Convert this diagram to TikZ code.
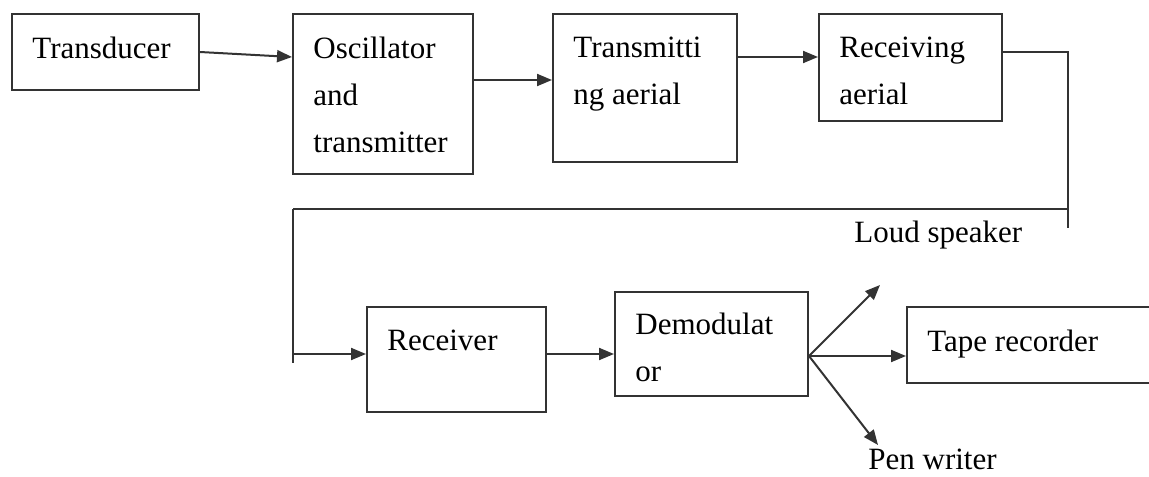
\documentclass[tikz,border=0pt]{standalone}
\usepackage{fontspec}
\setmainfont{Liberation Serif}
\usepackage{tikz}
\usetikzlibrary{arrows.meta,positioning}
\tikzset{>={Triangle[length=7.5pt,width=6pt]}}

\begin{document}
\begin{tikzpicture}[x=0.5pt, y=-0.5pt,
                    block/.style={draw, line width=1pt, black!80, inner sep=0pt},
                    lbl/.style={font=\fontsize{15.5}{23.5}\selectfont, black, align=left, inner sep=0pt, anchor=north west},
                    link/.style={line width=1pt, black!80, ->},
                    wire/.style={line width=1pt, black!80},
                   ]

\useasboundingbox (0,0) rectangle (1149,476);

% top row
\node[block, minimum width=93.5pt, minimum height=38pt] (trans) at (105.5,52) {};
\node[block, minimum width=90pt, minimum height=80pt] (osc) at (383,94) {};
\node[block, minimum width=92pt, minimum height=74pt] (tx) at (645,88) {};
\node[block, minimum width=91.5pt, minimum height=53.5pt] (rx) at (910.5,67.5) {};

% bottom row
\node[block, minimum width=89.5pt, minimum height=52.5pt] (rcv) at (456.5,359.5) {};
\node[block, minimum width=96.5pt, minimum height=52pt] (demod) at (711.5,344) {};
\node[block, minimum width=130pt, minimum height=38pt] (tape) at (1037,345) {};

\node[lbl] (transtext) at ([xshift=10.5pt,yshift=-12pt]trans.north west) {Transducer};
\node[lbl] (osctext) at ([xshift=10.5pt,yshift=-12pt]osc.north west) {Oscillator\\and\\transmitter};
\node[lbl] (txtext) at ([xshift=10.5pt,yshift=-12pt]tx.north west) {Transmitti\\ng aerial};
\node[lbl] (rxtext) at ([xshift=10.5pt,yshift=-12pt]rx.north west) {Receiving\\aerial};
\node[lbl] (rcvtext) at ([xshift=10.5pt,yshift=-12pt]rcv.north west) {Receiver};
\node[lbl] (demodtext) at ([xshift=10.5pt,yshift=-11pt]demod.north west) {Demodulat\\or};
\node[lbl] (tapetext) at ([xshift=10.5pt,yshift=-12pt]tape.north west) {Tape recorder};

\draw[link] (trans.east) -- (osc.west |- 0,57);
\draw[link] (osc.east |- 0,80) -- (tx.west |- 0,80);
\draw[link] (tx.east |- 0,57) -- (rx.west |- 0,57);

% line back down to the receiver
\coordinate (top) at (1068,52);
\coordinate (tail) at (1068,228);
\coordinate (left) at (293,209);
\coordinate (foot) at (293,363);
\draw[wire] (rx.east |- top) -- (top) -- (tail);
\draw[wire] (left) -- (left -| top);
\draw[wire] (left) -- (foot);
\draw[link] (left |- 0,354) -- (rcv.west |- 0,354);
\draw[link] (rcv.east |- 0,354) -- (demod.west |- 0,354);

% outputs
\coordinate (fan) at (demod.east |- 0,356);
\coordinate (up) at (880,285);
\coordinate (down) at (878,445);
\draw[link] (fan) -- (up);
\draw[link] (fan) -- (tape.west |- fan);
\draw[link] (fan) -- (down);

\node[lbl, anchor=base west] (loud) at (854,242) {Loud speaker};
\node[lbl, anchor=base west] (pen) at (868,469) {Pen writer};

\end{tikzpicture}
\end{document}
